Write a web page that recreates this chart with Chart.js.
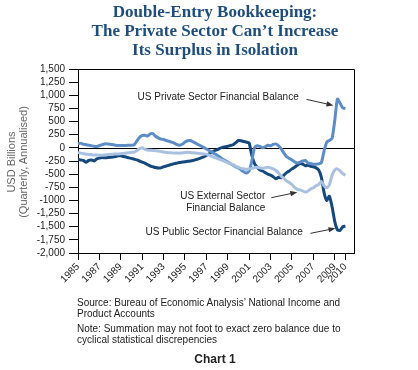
<!DOCTYPE html>
<html><head><meta charset="utf-8">
<script src="https://cdn.jsdelivr.net/npm/chart.js@4/dist/chart.umd.min.js"></script>
<style>
html,body{margin:0;padding:0;background:#fff;width:418px;height:370px;overflow:hidden}
#wrap{position:relative;width:418px;height:370px}
canvas{position:absolute;left:0;top:0}
.title{position:absolute;left:0;width:430px;top:2px;text-align:center;font-family:"Liberation Serif",serif;font-weight:bold;font-size:17px;line-height:19px;color:#1f4e7c}
.ytitle{position:absolute;left:-58px;top:150px;width:150px;height:24px;transform:rotate(-90deg);transform-origin:75px 12px;text-align:center;font-family:"Liberation Sans",Arial,sans-serif;font-size:11px;line-height:12px;color:#666}
.foot{position:absolute;left:77px;font-family:"Liberation Sans",Arial,sans-serif;font-size:10px;line-height:11px;color:#222}
.chartno{position:absolute;left:0;width:430px;top:352px;text-align:center;font-family:"Liberation Sans",Arial,sans-serif;font-weight:bold;font-size:12px;color:#222}
</style></head>
<body><div id="wrap">
<canvas id="c" width="418" height="370"></canvas>
<div class="title">Double-Entry Bookkeeping:<br>The Private Sector Can’t Increase<br>Its Surplus in Isolation</div>
<div class="ytitle">USD Billions<br>(Quarterly, Annualised)</div>
<div class="foot" style="top:297px">Source: Bureau of Economic Analysis’ National Income and<br>Product Accounts</div>
<div class="foot" style="top:323px">Note: Summation may not foot to exact zero balance due to<br>cyclical statistical discrepencies</div>
<div class="chartno">Chart 1</div>
</div>
<script>
// Quarterly observations, 1985 Q1 .. 2010 Q1
const startYear = 1985;
const quarterCount = 101;
const quarters = [];
for (let i = 0; i < quarterCount; i++) quarters.push(startYear + i / 4);

const privateBalance = [
  75, 90, 70, 60,   50, 40, 30, 25,   40, 60, 75, 75,   70, 60, 50, 45,
  45, 45, 45, 50,   50, 60, 130, 200,   235, 240, 225, 265,   270, 220, 190, 165,
  160, 140, 125, 110,   90, 60, 50, 70,   110, 135, 140, 115,   90, 60, 35, 10,
  -20, -50, -80, -110,   -140, -175, -210, -240,   -270, -300, -330, -360,
  -380, -420, -455, -480,   -440, -250, 0, 40,   30, 0, 20, 50,   40, 65, 75, 40,
  -20, -100, -170, -200,   -230, -265, -290, -270,   -250, -240, -290, -300,
  -310, -310, -305, -280,   -60, 110, 140, 180,   520, 930, 850, 760,   750
];
const externalBalance = [
  -90, -100, -110, -120,   -125, -130, -135, -138,   -140, -140, -135, -130,
  -125, -120, -118, -115,   -110, -105, -100, -95,   -85, -80, -50, -15,   0, -30, -40, -45,
  -50, -55, -60, -70,   -80, -88, -92, -95,   -98, -100, -100, -95,   -90, -85, -90, -95,
  -100, -105, -110, -115,   -120, -140, -160, -180,   -200, -220, -240, -260,
  -280, -300, -320, -350,   -370, -390, -400, -410,   -400, -390, -375, -370,
  -380, -390, -380, -370,   -380, -400, -430, -480,   -540, -580, -630, -660,
  -700, -750, -790, -800,   -820, -840, -820, -780,   -760, -720, -700, -640,
  -720, -760, -700, -520,   -420, -400, -440, -490,   -520
];
const publicBalance = [
  -215, -230, -240, -275,   -240, -230, -250, -210,   -195, -185, -190, -185,
  -180, -175, -165, -150,   -150, -165, -175, -190,   -200, -215, -230, -250,
  -270, -290, -320, -345,   -360, -375, -385, -380,   -360, -345, -330, -315,
  -300, -290, -280, -270,   -265, -255, -250, -240,   -225, -210, -190, -170,
  -145, -115, -85, -55,   -35, -10, 10, 20,   30, 45, 60, 100,
  140, 135, 120, 110,   90, -145, -300, -370,   -420, -440, -470, -500,
  -520, -550, -590, -560,   -570, -520, -470, -440,   -400, -370, -330, -300,
  -310, -340, -330, -350,   -360, -380, -420, -560,   -850, -1000, -920, -1120,
  -1400, -1560, -1570, -1500,   -1490
];
const xTickYears = [1985,1987,1989,1991,1993,1995,1997,1999,2001,2003,2005,2007,2009,2010];
const yMin = -2000, yMax = 1500, yStep = 250;

const labelPrivate = 'US Private Sector Financial Balance';
const labelExternal = ['US External Sector', 'Financial Balance'];
const labelPublic = 'US Public Sector Financial Balance';

function pts(arr){ return arr.map((v,i)=>({x:quarters[i], y:v})); }

const frame = {
  id:'frame',
  beforeDatasetsDraw(chart){
    const {ctx, chartArea:a, scales:{y}} = chart;
    ctx.save();
    ctx.strokeStyle='#000'; ctx.lineWidth=1;
    const y0 = Math.round(y.getPixelForValue(0))+0.5;
    ctx.beginPath(); ctx.moveTo(a.left,y0); ctx.lineTo(a.right,y0); ctx.stroke();
    ctx.beginPath();
    ctx.moveTo(a.left, Math.round(a.top)+0.5); ctx.lineTo(Math.round(a.right)+0.5, Math.round(a.top)+0.5);
    ctx.lineTo(Math.round(a.right)+0.5, a.bottom);
    ctx.stroke();
    ctx.restore();
  }
};

function arrow(ctx,x1,y1,x2,y2){
  const ang=Math.atan2(y2-y1,x2-x1), L=7, W=2.6;
  ctx.beginPath(); ctx.moveTo(x1,y1); ctx.lineTo(x2-Math.cos(ang)*L*0.8,y2-Math.sin(ang)*L*0.8); ctx.stroke();
  ctx.beginPath();
  ctx.moveTo(x2,y2);
  ctx.lineTo(x2-L*Math.cos(ang)+W*Math.sin(ang), y2-L*Math.sin(ang)-W*Math.cos(ang));
  ctx.lineTo(x2-L*Math.cos(ang)-W*Math.sin(ang), y2-L*Math.sin(ang)+W*Math.cos(ang));
  ctx.closePath(); ctx.fill();
}

const notes = {
  id:'notes',
  afterDraw(chart){
    const {ctx, scales:{x,y}} = chart;
    const X=v=>x.getPixelForValue(v), Y=v=>y.getPixelForValue(v);
    ctx.save();
    ctx.font='10px "Liberation Sans", Arial, sans-serif';
    ctx.fillStyle='#222'; ctx.textBaseline='middle';
    ctx.textAlign='center';
    ctx.fillText(labelPrivate, X(1998.1), Y(965));
    ctx.fillText(labelPublic, X(1998.66), Y(-1597));
    ctx.textAlign='right';
    ctx.fillText(labelExternal[0], X(2002.5), Y(-930));
    ctx.fillText(labelExternal[1], X(2002.5), Y(-1153));
    ctx.strokeStyle='#333'; ctx.fillStyle='#333'; ctx.lineWidth=1;
    arrow(ctx, X(2006.36), Y(922), X(2008.88), Y(807));
    arrow(ctx, X(2003.07), Y(-948), X(2005.5), Y(-844));
    arrow(ctx, X(2006.73), Y(-1626), X(2009.07), Y(-1530));
    ctx.restore();
  }
};

new Chart(document.getElementById('c'), {
  type:'line',
  data:{datasets:[
    {label:'External', data:pts(externalBalance), borderColor:'#a9c1e1', borderWidth:3, pointRadius:0, tension:0.2},
    {label:'Private', data:pts(privateBalance), borderColor:'#5d8dc6', borderWidth:3, pointRadius:0, tension:0.2},
    {label:'Public', data:pts(publicBalance), borderColor:'#15497e', borderWidth:3, pointRadius:0, tension:0.2}
  ]},
  options:{
    responsive:false, animation:false,
    layout:{padding:{left:0, top:69, right:64, bottom:72}},
    plugins:{legend:{display:false}, tooltip:{enabled:false}},
    scales:{
      x:{type:'linear', min:1985, max:2010.8,
        afterFit(s){ s.height=45; },
        afterBuildTicks(s){ s.ticks = xTickYears.map(v=>({value:v})); },
        ticks:{autoSkip:false, maxRotation:45, minRotation:45, padding:1, color:'#222',
          font:{family:'"Liberation Sans", Arial, sans-serif', size:10},
          callback:v=>String(v)},
        grid:{drawOnChartArea:false, tickLength:7, color:'#000', tickColor:'#000'},
        border:{display:true, color:'#000', width:1}
      },
      y:{min:yMin, max:yMax,
        afterFit(s){ s.width=78; },
        ticks:{stepSize:yStep, autoSkip:false, padding:4, color:'#222',
          font:{family:'"Liberation Sans", Arial, sans-serif', size:10},
          callback:v=> v===-1000 ? '-1000' : v.toLocaleString('en-US')},
        grid:{drawOnChartArea:false, tickLength:9, color:'#000', tickColor:'#000'},
        border:{display:true, color:'#000', width:1}
      }
    }
  },
  plugins:[frame, notes]
});
</script>
</body></html>
